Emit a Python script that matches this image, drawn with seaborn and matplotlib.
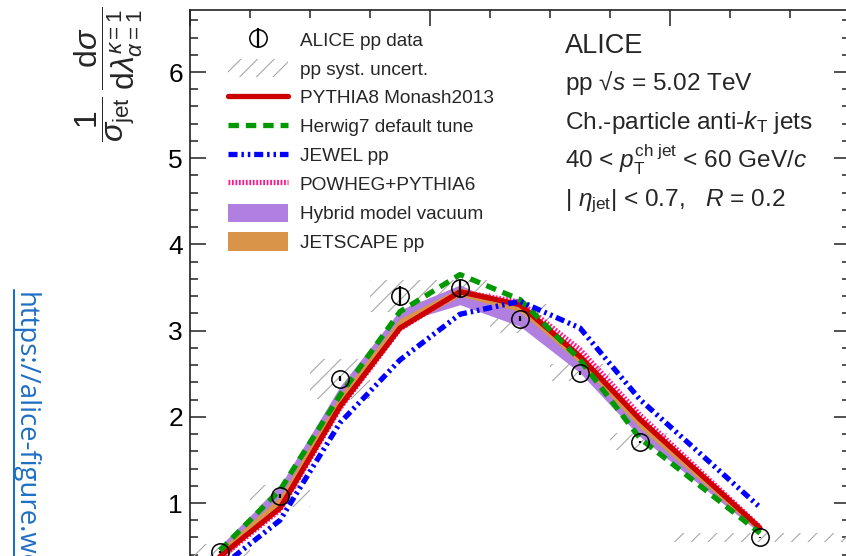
import numpy as np
import pandas as pd
import matplotlib
matplotlib.use("Agg")
import matplotlib.pyplot as plt
import seaborn as sns
from matplotlib.lines import Line2D
from matplotlib.patches import Patch
from matplotlib.ticker import MultipleLocator

# ---------------- data ----------------
bin_centers = [0.025, 0.075, 0.125, 0.175, 0.225, 0.275, 0.325, 0.375, 0.475]
bin_halfwidths = [0.025, 0.025, 0.025, 0.025, 0.025, 0.025, 0.025, 0.025, 0.075]
data_y = [0.43, 1.08, 2.44, 3.40, 3.49, 3.14, 2.51, 1.71, 0.60]
data_stat = [0.015, 0.02, 0.03, 0.12, 0.10, 0.03, 0.02, 0.015, 0.01]
data_syst = [0.10, 0.13, 0.23, 0.19, 0.10, 0.17, 0.10, 0.10, 0.05]
pythia8 = [0.38, 0.94, 2.12, 3.03, 3.45, 3.30, 2.70, 1.97, 0.71]
herwig7 = [0.45, 1.15, 2.25, 3.22, 3.65, 3.36, 2.66, 1.75, 0.65]
jewel = [0.25, 0.80, 1.93, 2.66, 3.19, 3.34, 3.03, 2.20, 0.95]
powheg = [0.36, 0.92, 2.10, 3.02, 3.45, 3.33, 2.78, 2.02, 0.72]
hybrid_lo = [0.40, 1.00, 2.20, 3.09, 3.30, 3.05, 2.51, 1.77, 0.65]
hybrid_hi = [0.50, 1.20, 2.35, 3.24, 3.53, 3.22, 2.66, 1.93, 0.72]
jetscape_lo = [0.38, 0.95, 2.12, 3.02, 3.40, 3.22, 2.62, 1.87, 0.66]
jetscape_hi = [0.46, 1.07, 2.25, 3.14, 3.50, 3.32, 2.72, 1.97, 0.72]

legend_labels = ["ALICE pp data", "pp syst. uncert.", "PYTHIA8 Monash2013",
                 "Herwig7 default tune", "JEWEL pp", "POWHEG+PYTHIA6",
                 "Hybrid model vacuum", "JETSCAPE pp"]

# ---------------- style ----------------
sns.set_theme(style="ticks")
plt.rcParams["font.family"] = ["Liberation Sans", "DejaVu Sans"]
plt.rcParams["mathtext.fontset"] = "custom"
plt.rcParams["mathtext.rm"] = "Liberation Sans"
plt.rcParams["mathtext.it"] = "Liberation Sans:italic"
plt.rcParams["mathtext.bf"] = "Liberation Sans:bold"
plt.rcParams["lines.scale_dashes"] = False
plt.rcParams["hatch.linewidth"] = 0.8

W, H = 846, 556
fig = plt.figure(figsize=(W / 100, H / 100), dpi=100)

def fx(x):
    return x / W

def fy(y):
    return 1 - y / H

# axes: x 0..0.55 -> px 190..850 ; y 0..6.72 -> px 589..10
ax_left, ax_right, ax_top, ax_bot = 190, 850, 10, 589.2
ax = fig.add_axes([fx(ax_left), fy(ax_bot), (ax_right - ax_left) / W, (ax_bot - ax_top) / H])
ax.set_xlim(0, 0.55)
ax.set_ylim(0, (ax_bot - ax_top) / 86.2)

df = pd.DataFrame({
    "x": bin_centers, "data": data_y, "pythia8": pythia8, "herwig7": herwig7,
    "jewel": jewel, "powheg": powheg,
})

c_red = "#cc0000"
c_green = "#009900"
c_blue = "#0000ff"
c_pink = "#ff1a8c"
c_purple = "#b07fe0"
c_orange = "#d9944a"
c_hatch = "#a8a8a8"

# systematic boxes
ax.bar(bin_centers, [2 * s for s in data_syst],
       bottom=[y - s for y, s in zip(data_y, data_syst)],
       width=[2 * w for w in bin_halfwidths], fill=False, hatch="//",
       edgecolor=c_hatch, linewidth=0, zorder=1)

# model bands
ax.fill_between(bin_centers, hybrid_lo, hybrid_hi, color=c_purple, lw=0, zorder=2)
ax.fill_between(bin_centers, jetscape_lo, jetscape_hi, color=c_orange, lw=0, zorder=3)

lw = 3.8
ls_green = (0, (7.5, 5.0))
ls_blue = (0, (6.5, 2.8, 1.8, 2.8, 1.8, 2.8))
ls_pink = (0, (1.3, 1.2))

sns.lineplot(data=df, x="x", y="powheg", ax=ax, color=c_pink, lw=lw, linestyle=ls_pink, errorbar=None, zorder=3.5)
sns.lineplot(data=df, x="x", y="pythia8", ax=ax, color=c_red, lw=lw, errorbar=None, zorder=4)
sns.lineplot(data=df, x="x", y="herwig7", ax=ax, color=c_green, lw=lw, linestyle=ls_green, errorbar=None, zorder=6)
sns.lineplot(data=df, x="x", y="jewel", ax=ax, color=c_blue, lw=lw, linestyle=ls_blue, errorbar=None, zorder=7)

eb = ax.errorbar(df["x"], df["data"], yerr=data_stat, fmt="o", ms=12.5, mfc="none",
                 mec="black", mew=1.1, ecolor="black", elinewidth=1.6, capsize=0, zorder=10)

ax.set_xlabel("")
ax.set_ylabel("")

# ticks
ax.yaxis.set_major_locator(MultipleLocator(1))
ax.yaxis.set_minor_locator(MultipleLocator(0.2))
ax.xaxis.set_major_locator(MultipleLocator(0.2))
ax.xaxis.set_minor_locator(MultipleLocator(0.05))
ax.tick_params(which="both", direction="in", top=True, right=True, color="#222222", width=1.1)
ax.tick_params(which="major", length=11.5)
ax.tick_params(which="minor", length=5.8)
ax.tick_params(axis="y", which="major", labelsize=19, pad=5, labelcolor="black")
ax.tick_params(axis="x", labelbottom=False)
ax.set_yticks([1, 2, 3, 4, 5, 6])
for sp in ax.spines.values():
    sp.set_color("#222222")
    sp.set_linewidth(1.2)

# legend
h_data = eb
h_syst = Patch(facecolor="none", edgecolor=c_hatch, hatch="//", linewidth=0)
h_red = Line2D([], [], color=c_red, lw=lw)
h_green = Line2D([], [], color=c_green, lw=lw, linestyle=ls_green)
h_blue = Line2D([], [], color=c_blue, lw=lw, linestyle=ls_blue)
h_pink = Line2D([], [], color=c_pink, lw=lw, linestyle=ls_pink)
h_purple = Patch(facecolor=c_purple, edgecolor="none")
h_orange = Patch(facecolor=c_orange, edgecolor="none")
leg_fs = 13.7
leg = ax.legend([h_data, h_syst, h_red, h_green, h_blue, h_pink, h_purple, h_orange],
                legend_labels, loc="upper left",
                bbox_to_anchor=(fx(228), fy(30)), bbox_transform=fig.transFigure,
                frameon=False, borderpad=0, borderaxespad=0, fontsize=leg_fs,
                handlelength=60 / (leg_fs * 100 / 72), handleheight=1.1,
                handletextpad=0.62, labelspacing=0.49)
leg.set_zorder(20)

# right-hand text block
tx = fx(565)
tfs = 17.6
fig.text(tx, fy(53), "ALICE", fontsize=19.5, va="baseline", ha="left")
fig.text(tx, fy(90), "pp \u221a$s$ = 5.02 TeV", fontsize=tfs, va="baseline", ha="left")
fig.text(tx, fy(129), "Ch.-particle anti-$k_{\\mathrm{T}}$ jets", fontsize=tfs, va="baseline", ha="left")
fig.text(tx, fy(168), "40 < $p_{\\mathrm{T}}^{\\mathrm{ch\\ jet}}$ < 60 GeV/$c$", fontsize=tfs, va="baseline", ha="left")
fig.text(tx, fy(206), "| $\\eta_{\\mathrm{jet}}$| < 0.7,   $R$ = 0.2", fontsize=tfs, va="baseline", ha="left")

# y-axis title
fig.text(fx(109), fy(74),
         r"$\dfrac{1}{\sigma_{\mathrm{jet}}}\,\dfrac{\mathrm{d}\sigma}{\mathrm{d}\lambda^{\kappa=1}_{\alpha=1}}$",
         rotation=90, fontsize=23, ha="center", va="center")

# side URL watermark (cut by the figure edge, as in the reference)
c_url = "#1f6fc5"
fig.text(fx(18), fy(292), "https://alice-figure.web.cern.ch", rotation=-90, rotation_mode="anchor",
         ha="left", va="baseline", fontsize=19.8, color=c_url, family=["Open Sans", "DejaVu Sans"])
fig.add_artist(Line2D([fx(14), fx(14)], [fy(290), fy(560)], color=c_url, lw=1.5,
                      transform=fig.transFigure))

fig.savefig("out.png", dpi=100)
